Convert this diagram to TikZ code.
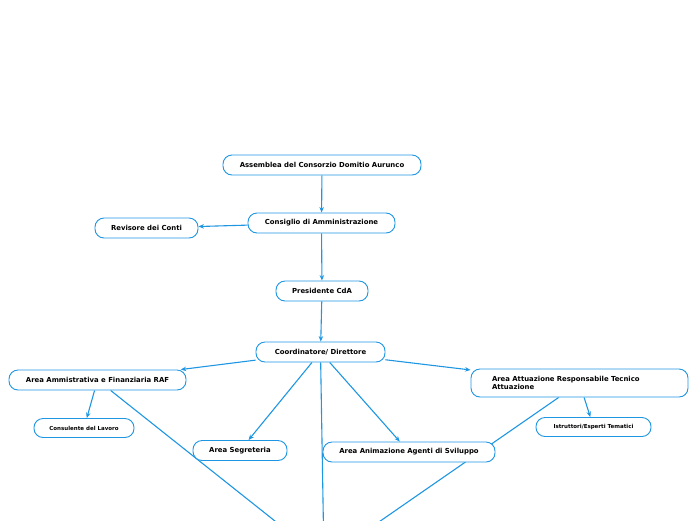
\documentclass[tikz,border=0pt]{standalone}
\usepackage{fontspec}
\setmainfont{DejaVu Sans}
\usetikzlibrary{arrows.meta,positioning,backgrounds}
\definecolor{mapblue}{RGB}{30,150,226}

\begin{document}
\begin{tikzpicture}[x=1pt, y=-1pt, >={Stealth[length=5.5pt,width=4.5pt]},
    topic/.style={draw=mapblue, line width=0.9pt, rounded corners=9pt, fill=white,
      minimum height=20pt, inner sep=0pt, font=\fontsize{6.9}{8}\selectfont\bfseries},
    subtopic/.style={topic, minimum height=19pt, font=\fontsize{5.5}{6.5}\selectfont\bfseries},
    link/.style={draw=mapblue, line width=1.1pt}]
  \useasboundingbox (0,0) rectangle (696,520);
  \clip (0,0) rectangle (696,520);

  % governing bodies
  \node[topic, minimum width=198pt] (assemblea) at (322,165) {Assemblea del Consorzio Domitio Aurunco};
  \node[topic, minimum width=147pt] (cda) at (321.5,223) {Consiglio di Amministrazione};
  \node[topic, minimum width=103pt] (revisore) at (146.5,228) {Revisore dei Conti};
  \node[topic, minimum width=92pt] (presidente) at (322,291) {Presidente CdA};
  \node[topic, minimum width=129pt] (coord) at (320.5,352) {Coordinatore/ Direttore};
  % areas
  \node[topic, minimum width=177pt] (raf) at (97.5,380) {Area Ammistrativa e Finanziaria RAF};
  \node[subtopic, minimum width=100pt] (consulente) at (84,428) {Consulente del Lavoro};
  \node[topic, minimum width=94pt] (segreteria) at (240,450.5) {Area Segreteria};
  \node[topic, minimum width=172pt] (animazione) at (409,452) {Area Animazione Agenti di Sviluppo};
  \node[topic, minimum width=217pt, minimum height=28pt, align=left,
        text width=175pt] (attuazione) at (579.5,383)
        {Area Attuazione Responsabile Tecnico\\Attuazione};
  \node[subtopic, minimum width=115pt] (istruttori) at (593.5,427) {Istruttori/Esperti Tematici};
  % common target below the page
  \coordinate (sotto) at (324,560);

  \begin{scope}[on background layer]
    \draw[link, ->] (assemblea) -- (cda);
    \draw[link, ->] (cda) -- (revisore);
    \draw[link, ->] (cda) -- (presidente);
    \draw[link, ->] (presidente) -- (coord);
    \draw[link, ->] (coord) -- (raf);
    \draw[link, ->] (coord) -- (attuazione);
    \draw[link, ->] (coord) -- (segreteria);
    \draw[link, ->] (coord) -- (animazione);
    \draw[link, ->] (raf) -- (consulente);
    \draw[link, ->] (attuazione) -- (istruttori);
    \draw[link] (coord) -- (sotto);
    \draw[link] (raf) -- (sotto);
    \draw[link] (attuazione) -- (sotto);
  \end{scope}
\end{tikzpicture}
\end{document}
